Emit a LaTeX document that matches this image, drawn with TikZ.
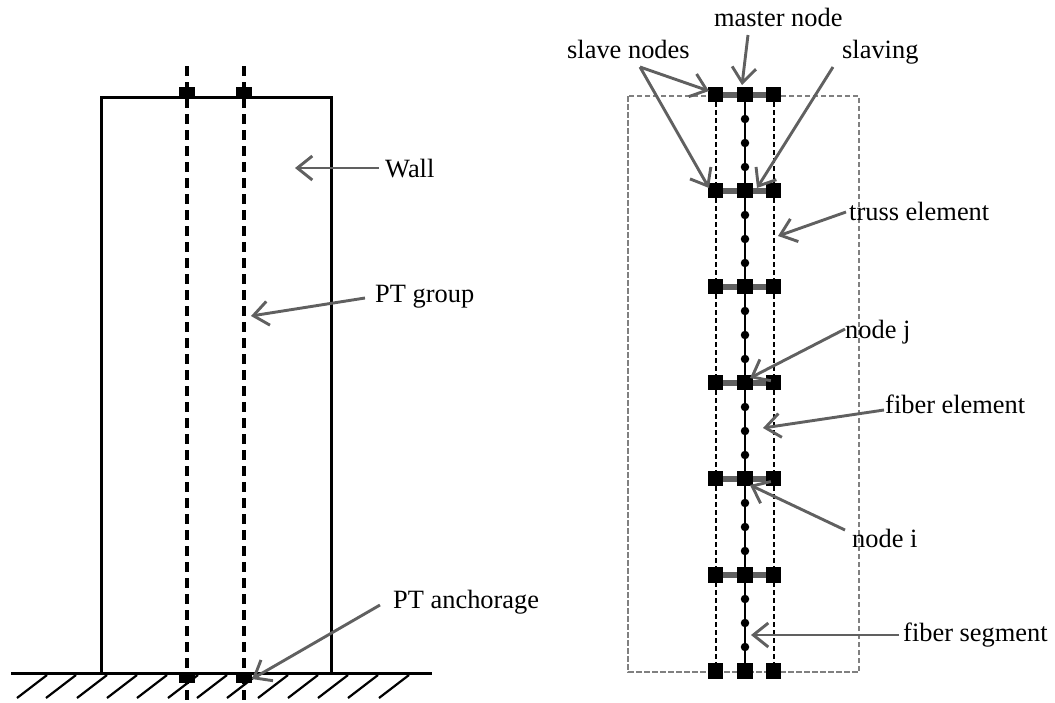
\documentclass[tikz,border=0pt]{standalone}
\usepackage{fontspec}
\setmainfont{Liberation Serif}
\usetikzlibrary{arrows.meta}
\definecolor{arrowgray}{HTML}{606060}
\definecolor{boxgray}{HTML}{808080}
\tikzset{
  lbl/.style={font=\fontsize{26.4}{28}\selectfont,inner sep=0pt,anchor=base west},
  callout/.style={draw=arrowgray,line width=2.9pt,-{Straight Barb[length=15pt,width=24pt,line width=2.9pt]}},
  solidline/.style={draw=black,line width=3pt},
  fiberline/.style={draw=black,line width=2.4pt},
  hatchline/.style={draw=black,line width=2.2pt},
  ptline/.style={draw=black,line width=4pt,dash pattern=on 10pt off 6pt},
  trussline/.style={draw=black,line width=1.9pt,dash pattern=on 5pt off 3pt},
  anchorsq/.style={fill=black,draw=none,minimum width=16pt,minimum height=10pt,inner sep=0pt},
  nodesq/.style={fill=black,draw=none,minimum size=15.5pt,inner sep=0pt},
  segdot/.style={fill=black,draw=none,circle,minimum size=8.5pt,inner sep=0pt},
  slavebar/.style={draw=arrowgray,line width=6pt},
}
\begin{document}
\begin{tikzpicture}[x=1pt,y=-1pt]
\useasboundingbox (0,0) rectangle (1055,702);
% Left: wall
\coordinate (wtl) at (101,97); \coordinate (wtr) at (331,97);
\coordinate (wbl) at (101,673); \coordinate (wbr) at (331,673);
\coordinate (gl) at (11,673); \coordinate (gr) at (432,673);
\draw[solidline,line join=miter] (wbl) -- (wtl) -- (wtr) -- (wbr);
\draw[solidline] (gl) -- (gr);
\foreach \x in {17,46,77,107,137,168,197,227,258,288,318,348,379}{
  \draw[hatchline] (\x,698) -- (\x+30,675);
}
\coordinate (pa1) at (187,66); \coordinate (pb1) at (187,702);
\coordinate (pa2) at (244,66); \coordinate (pb2) at (244,702);
\draw[ptline] (pa1) -- (pb1);
\draw[ptline] (pa2) -- (pb2);
\node[anchorsq] (at1) at (187,92) {};
\node[anchorsq] (at2) at (244,92) {};
\node[anchorsq] (ab1) at (187,678) {};
\node[anchorsq] (ab2) at (244,678) {};
% Right: box
\draw[boxgray,line width=1.5pt,dash pattern=on 5.5pt off 2.5pt] (628,96) rectangle (859,672);
% Right: truss and fiber
\draw[trussline] (716,94) -- (716,671);
\draw[trussline] (774,94) -- (774,671);
\draw[fiberline] (745,94) -- (745,671);
\foreach \i/\y in {1/94.5,2/190.5,3/286.5,4/382.5,5/478.5,6/575,7/671}{
  \coordinate (la\i) at (716,\y); \coordinate (lc\i) at (773.5,\y);
  \ifnum\i<7 \draw[slavebar] (la\i) -- (lc\i); \fi
  \node[nodesq] (s\i) at (715.5,\y) {};
  \node[nodesq] (m\i) at (745,\y) {};
  \node[nodesq] (t\i) at (773.5,\y) {};
}
\foreach \y in {0,96,192,288,384,480}{
  \node[segdot] at (745,119+\y) {};
  \node[segdot] at (745,143+\y) {};
  \node[segdot] at (745,167+\y) {};
}
% Labels
\node[lbl] (wall) at (385,177) {Wall};
\node[lbl] (ptg) at (375,302) {PT group};
\node[lbl] (pta) at (393,608) {PT anchorage};
\node[lbl] (master) at (714,26) {master node};
\node[lbl] (slave) at (567,58) {slave nodes};
\node[lbl] (slaving) at (842,58) {slaving};
\node[lbl] (truss) at (849,220) {truss element};
\node[lbl] (nodej) at (845,338) {node j};
\node[lbl] (fiber) at (885,413) {fiber element};
\node[lbl] (nodei) at (852,547) {node i};
\node[lbl] (fseg) at (903,641) {fiber segment};
% Callouts
\coordinate (cw) at (379,168);
\coordinate (cg) at (365,298);
\coordinate (ca) at (380,605);
\coordinate (cm) at (748,35);
\coordinate (cs) at (640,67);
\coordinate (cl) at (833,67);
\coordinate (ct) at (846,212);
\coordinate (cj) at (845,329);
\coordinate (cf) at (884,410);
\coordinate (ci) at (845,530);
\coordinate (cx) at (899,635);
\draw[callout] (cw) -- (295,168);
\draw[callout] (cg) -- (251,316);
\draw[callout] (ca) -- (252,679);
\draw[callout] (cm) -- (742,85);
\draw[callout] (cs) -- (709,91);
\draw[callout] (cs) -- (709,188);
\draw[callout] (cl) -- (757,188);
\draw[callout] (ct) -- (778,236);
\draw[callout] (cj) -- (750,378);
\draw[callout] (cf) -- (763,428);
\draw[callout] (ci) -- (750,485);
\draw[callout] (cx) -- (751,635);
\end{tikzpicture}
\end{document}
